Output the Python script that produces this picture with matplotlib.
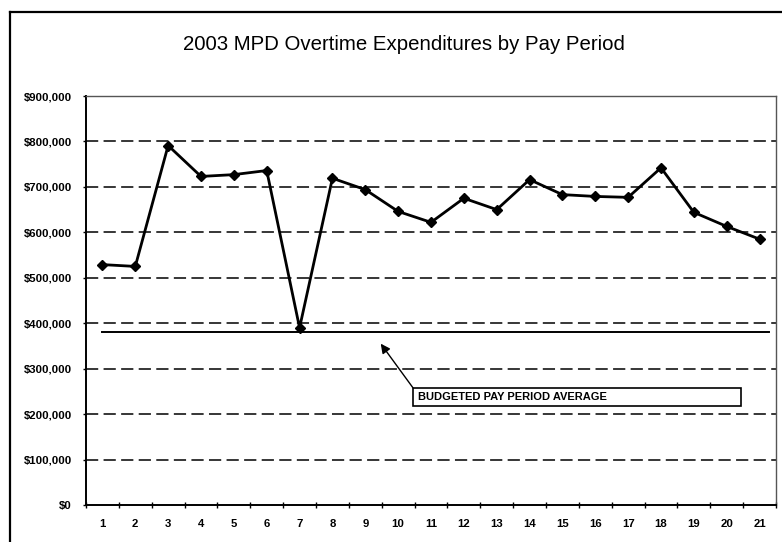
import matplotlib
matplotlib.use("Agg")
import matplotlib.pyplot as plt
from matplotlib.lines import Line2D
from matplotlib.patches import Rectangle
from matplotlib.ticker import FuncFormatter, FixedLocator

plt.rcParams['font.family'] = ['Liberation Sans', 'DejaVu Sans']

# ---- data ----
pay_periods = list(range(1, 22))
expenditures = [529000, 525000, 791000, 723000, 727000, 736000, 390000,
                719000, 694000, 646000, 622000, 675000, 650000, 716000,
                683000, 679000, 677000, 742000, 644000, 613000, 585000]
budget_average = 380000
y_ticks = [0, 100000, 200000, 300000, 400000, 500000, 600000, 700000, 800000, 900000]
title = "2003 MPD Overtime Expenditures by Pay Period"
annotation_text = "BUDGETED PAY PERIOD AVERAGE"

W, H = 782, 542
fig = plt.figure(figsize=(W / 100, H / 100), dpi=100)
ax = fig.add_axes([86 / W, 1 - 505 / H, (776 - 86) / W, (505 - 96) / H])

ax.set_xlim(0.5, 21.5)
ax.set_ylim(0, 900000)

# gridlines
for v in y_ticks[1:-1]:
    ax.axhline(v, color='black', lw=1.1, linestyle=(0, (8, 3.5)), zorder=1)

# budget line
ax.plot([1, 21.3], [budget_average, budget_average], color='black', lw=1.4, zorder=2)

# main series
ax.plot(pay_periods, expenditures, color='black', lw=2.0, marker='D',
        markersize=5.5, markerfacecolor='black', markeredgecolor='black', zorder=3)

# spines
ax.spines['left'].set_color('black')
ax.spines['left'].set_linewidth(1.4)
ax.spines['bottom'].set_color('black')
ax.spines['bottom'].set_linewidth(1.4)
for s in ['top', 'right']:
    ax.spines[s].set_color('#555555')
    ax.spines[s].set_linewidth(1.0)
    ax.spines[s].set_linestyle((0, (1, 1)))

# ticks
ax.yaxis.set_major_locator(FixedLocator(y_ticks))
ax.yaxis.set_major_formatter(FuncFormatter(lambda v, p: "${:,.0f}".format(v)))
ax.tick_params(axis='y', direction='out', length=2.5, width=1, pad=7.5,
               labelsize=8.2)
for lbl in ax.get_yticklabels():
    lbl.set_fontweight('bold')

ax.set_xticks(pay_periods)
ax.set_xticklabels([str(p) for p in pay_periods], fontweight='bold', fontsize=8.2)
ax.tick_params(axis='x', which='major', length=0, pad=10)
ax.set_xticks([p - 0.5 for p in pay_periods] + [21.5], minor=True)
ax.tick_params(axis='x', which='minor', direction='inout', length=4, width=1)

# annotation box and arrow
ax.annotate("", xy=(9.47, 355000), xytext=(10.45, 258000),
            arrowprops=dict(arrowstyle='-|>', color='black', lw=1.0,
                            mutation_scale=14, shrinkA=0, shrinkB=0),
            zorder=4)
ax.text(10.6, 238000, annotation_text, fontsize=8, fontweight='bold',
        ha='left', va='center', zorder=5)
ax.add_patch(Rectangle((10.45, 218000), 20.44 - 10.45, 258000 - 218000,
                       fill=False, ec='black', lw=1.2, zorder=5))

# title
fig.text(403.5 / W, 1 - 45 / H, title, ha='center', va='center', fontsize=14.7)

# outer frame (left and top)
fig.add_artist(Line2D([10 / W, 10 / W], [0, 1 - 12 / H], color='black', lw=1.6,
                      transform=fig.transFigure))
fig.add_artist(Line2D([10 / W, 1], [1 - 12 / H, 1 - 12 / H], color='black', lw=1.6,
                      transform=fig.transFigure))

fig.savefig("out.png", dpi=100)
